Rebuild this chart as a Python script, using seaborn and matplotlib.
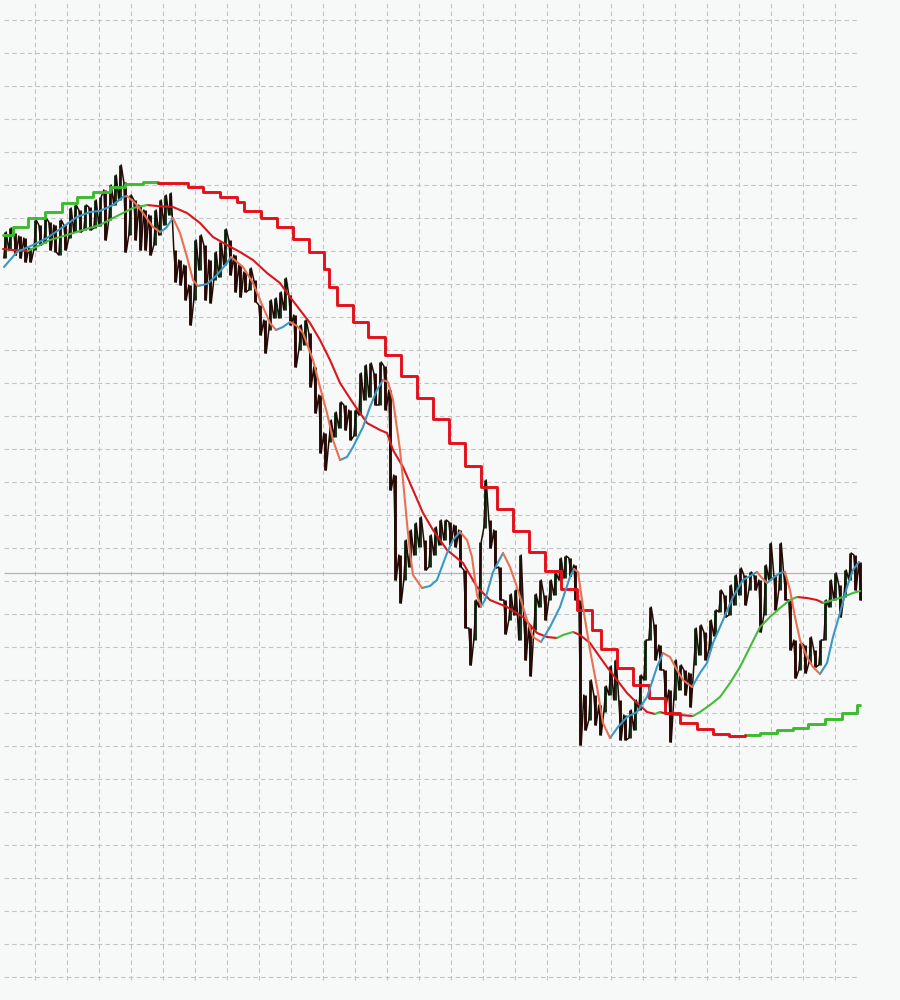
import numpy as np
import pandas as pd
import matplotlib
matplotlib.use("Agg")
import matplotlib.pyplot as plt
import seaborn as sns

# Price bars: one bar every 5 positions, high / low levels
bar_x = np.arange(5, 861, 5)
bar_high = [
    768, 772, 767, 764, 762, 752, 780, 775, 782, 778,
    775, 780, 775, 792, 795, 790, 795, 793, 800, 803,
    810, 815, 825, 835, 818, 805, 800, 795, 790, 785,
    790, 800, 805, 807, 750, 740, 735, 715, 760, 765,
    755, 740, 748, 758, 771, 760, 745, 735, 728, 732,
    720, 695, 680, 700, 702, 708, 722, 705, 685, 675,
    680, 667, 633, 605, 567, 580, 588, 598, 595, 590,
    590, 627, 635, 637, 627, 638, 634, 610, 525, 445,
    460, 470, 477, 483, 460, 465, 473, 480, 480, 478,
    475, 470, 430, 372, 400, 458, 520, 480, 470, 433,
    400, 406, 410, 445, 380, 375, 406, 420, 405, 420,
    427, 442, 444, 442, 435, 400, 305, 320, 305, 295,
    314, 334, 340, 300, 285, 290, 300, 325, 360, 393,
    376, 355, 330, 310, 340, 335, 330, 327, 372, 375,
    368, 380, 390, 410, 405, 415, 425, 432, 425, 428,
    425, 420, 435, 457, 425, 457, 425, 400, 360, 357,
    355, 363, 350, 360, 400, 420, 427, 415, 430, 447,
    445, 438,
]
bar_low = [
    742, 750, 745, 742, 738, 738, 750, 755, 757, 750,
    748, 745, 750, 762, 768, 768, 770, 770, 772, 774,
    760, 780, 795, 800, 748, 765, 760, 750, 750, 745,
    755, 765, 775, 785, 718, 715, 700, 675, 700, 730,
    700, 697, 720, 723, 735, 725, 708, 703, 708, 710,
    698, 665, 647, 670, 682, 682, 690, 675, 633, 650,
    655, 613, 587, 547, 530, 558, 563, 572, 570, 560,
    564, 585, 600, 603, 595, 595, 590, 510, 420, 397,
    420, 433, 445, 453, 430, 433, 445, 455, 460, 455,
    453, 433, 372, 335, 360, 393, 472, 452, 432, 400,
    366, 380, 385, 360, 340, 324, 370, 393, 380, 400,
    405, 420, 422, 424, 400, 255, 270, 280, 275, 265,
    288, 305, 300, 260, 260, 262, 270, 290, 320, 360,
    340, 330, 295, 258, 300, 310, 305, 293, 335, 345,
    340, 350, 364, 388, 383, 385, 395, 405, 395, 410,
    410, 368, 385, 420, 390, 410, 400, 350, 322, 330,
    327, 337, 333, 335, 360, 393, 400, 383, 403, 420,
    410, 400,
]

# Fast moving average (blue rising / salmon falling)
fast_x = [4, 17, 33, 47, 63, 77, 90, 100, 113, 123,
          127, 135, 143, 153, 160, 166, 173, 180, 187, 193,
          198, 207, 217, 227, 231, 243, 253, 263, 270, 276,
          283, 290, 297, 303, 313, 320, 327, 333, 340, 347,
          353, 363, 370, 377, 383, 388, 393, 400, 403, 407,
          410, 413, 422, 430, 437, 447, 453, 460, 467, 472,
          477, 481, 485, 493, 503, 510, 517, 527, 533, 541,
          550, 560, 570, 574, 578, 583, 590, 597, 603, 610,
          618, 627, 637, 647, 657, 663, 670, 677, 683, 692,
          700, 707, 713, 720, 733, 743, 757, 762, 767, 773,
          780, 785, 790, 795, 800, 807, 813, 820, 827, 833,
          840, 847, 853, 859]
fast_v = [733, 748, 755, 762, 773, 783, 788, 789, 795, 803,
          804, 797, 787, 773, 768, 772, 782, 767, 743, 720,
          714, 716, 725, 737, 743, 733, 717, 693, 677, 670,
          673, 678, 674, 667, 640, 613, 587, 560, 540, 543,
          553, 573, 593, 610, 620, 618, 600, 550, 520, 477,
          447, 425, 412, 414, 420, 447, 460, 468, 460, 443,
          405, 394, 400, 428, 447, 433, 413, 380, 363, 358,
          373, 393, 423, 431, 428, 393, 350, 313, 277, 262,
          273, 283, 288, 303, 333, 347, 343, 330, 320, 313,
          327, 337, 357, 373, 403, 420, 428, 422, 417, 422,
          427, 428, 410, 383, 360, 343, 333, 326, 337, 363,
          387, 413, 430, 438]

# Medium moving average (green rising / red falling)
med_x = [3, 13, 28, 50, 67, 83, 100, 113, 123, 133,
         147, 157, 173, 187, 200, 213, 227, 240, 253, 267,
         280, 290, 300, 310, 320, 330, 340, 353, 367, 380,
         387, 393, 403, 413, 423, 433, 447, 463, 477, 490,
         507, 523, 537, 547, 557, 563, 573, 580, 590, 597,
         607, 617, 627, 637, 647, 655, 660, 667, 680, 693,
         700, 710, 720, 730, 740, 750, 760, 770, 780, 790,
         797, 807, 817, 823, 833, 843, 853, 860]
med_v = [751, 750, 749, 760, 765, 770, 775, 782, 787, 792,
         795, 794, 793, 787, 777, 763, 755, 748, 740, 727,
         717, 703, 690, 677, 660, 640, 617, 597, 577, 570,
         567, 550, 533, 510, 487, 470, 450, 437, 413, 400,
         393, 383, 367, 363, 362, 365, 368, 365, 357, 347,
         333, 320, 307, 297, 288, 286, 288, 286, 285, 284,
         288, 295, 303, 317, 333, 353, 373, 383, 392, 400,
         403, 402, 400, 397, 400, 403, 407, 409]

# Slow higher-timeframe average, drawn as a staircase
stair_x = [3, 13, 28, 45, 62, 77, 93, 110, 125, 143,
           158, 173, 188, 203, 220, 237, 244, 261, 277, 293,
           309, 324, 329, 337, 353, 368, 385, 401, 417, 433,
           449, 465, 481, 497, 513, 529, 545, 561, 577, 592,
           601, 617, 633, 649, 665, 680, 697, 713, 729, 745,
           760, 777, 793, 808, 825, 842, 857, 860]
stair_v = [765, 773, 782, 788, 797, 803, 808, 813, 816, 818,
           817.5, 817, 813, 808, 803, 798, 789, 782, 773, 761,
           748, 731, 713, 695, 678, 663, 645, 624, 602, 581,
           557, 534, 513, 491, 469, 448, 429, 411, 390, 370,
           351, 332, 315, 302, 287, 277, 271, 266, 264, 265,
           267, 270, 272, 276, 281, 287, 295, 295]

last_price = 427


def fill_flat(d):
    d = list(d)
    for i in range(len(d)):
        if d[i] == 0:
            d[i] = d[i - 1] if i > 0 else 1
    return d


def runs_frame(x, v, dirs):
    # split a line into runs of same direction so each run gets one colour
    rows = []
    n = len(x)
    start = 0
    for i in range(1, n + 1):
        if i == n or dirs[i] != dirs[start]:
            end = min(i, n - 1)
            for k in range(start, end + 1):
                rows.append({"x": x[k], "v": v[k], "run": start,
                             "trend": "up" if dirs[start] > 0 else "down"})
            start = i
    return pd.DataFrame(rows)


d = np.sign(np.diff(fast_v))
fast_df = runs_frame(fast_x, fast_v, fill_flat(list(d) + [d[-1]]))
d = np.sign(np.diff(med_v))
med_df = runs_frame(med_x, med_v, fill_flat(list(d) + [d[-1]]))
d = np.sign(np.diff(stair_v))
stair_df = runs_frame(stair_x, stair_v, fill_flat([d[0]] + list(d)))

sns.set_theme(style="white")
bg = "#f7f8f8"
fig = plt.figure(figsize=(9, 10), dpi=100, facecolor=bg)
ax = fig.add_axes([0, 0, 1, 1])
ax.set_facecolor(bg)

# dashed grid, as in the terminal chart
grid_rows = np.arange(23, 981, 33)
grid_cols = np.arange(35, 836, 32)
ax.hlines(grid_rows, 4, 859, colors="#c3c3c3", linewidth=0.8,
          linestyles=(0, (4, 3)), zorder=1)
ax.vlines(grid_cols, 20, 1000, colors="#c3c3c3", linewidth=0.8,
          linestyles=(0, (4, 3)), zorder=1)
ax.hlines(last_price, 4, 859, colors="#a9b4c6", linewidth=0.9, zorder=2)

# price bars
mid = (np.array(bar_high) + np.array(bar_low)) / 2
up = np.r_[True, np.diff(mid) > 0]
bar_cols = np.where(up, "#10361a", "#2c0b07")
ax.vlines(bar_x, bar_low, bar_high, colors=bar_cols, linewidth=2.1, zorder=3)
zx, zy = [], []
for xi, hi, lo, u in zip(bar_x, bar_high, bar_low, up):
    zx += [xi - 1.2, xi + 1.2]
    zy += [lo, hi] if u else [hi, lo]
ax.plot(zx, zy, color="#220a05", linewidth=1.1, zorder=3)

sns.lineplot(data=stair_df, x="x", y="v", hue="trend", units="run",
             estimator=None, sort=False, legend=False, ax=ax,
             palette={"up": "#3dbb2f", "down": "#e3111b"},
             linewidth=2.1, drawstyle="steps-post", zorder=5)
sns.lineplot(data=med_df, x="x", y="v", hue="trend", units="run",
             estimator=None, sort=False, legend=False, ax=ax,
             palette={"up": "#47ba3a", "down": "#d9161b"},
             linewidth=1.5, zorder=5)
sns.lineplot(data=fast_df, x="x", y="v", hue="trend", units="run",
             estimator=None, sort=False, legend=False, ax=ax,
             palette={"up": "#3a98c4", "down": "#ea7052"},
             linewidth=1.5, zorder=6)

ax.set_xlim(0, 900)
ax.set_ylim(0, 1000)
ax.axis("off")

fig.savefig("out.png", dpi=100, facecolor=bg)
